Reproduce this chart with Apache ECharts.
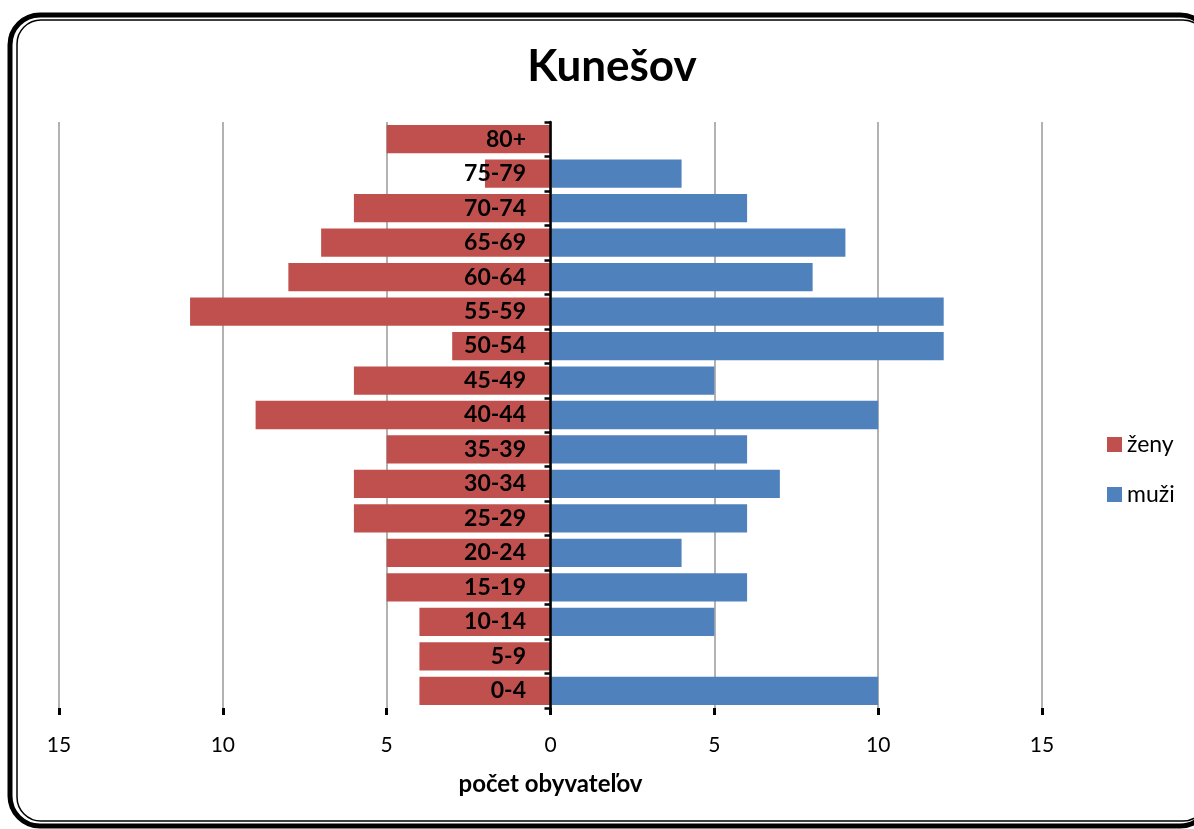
<!DOCTYPE html>
<html><head><meta charset="utf-8">
<script src="https://cdn.jsdelivr.net/npm/echarts@6/dist/echarts.min.js"></script>
<style>html,body{margin:0;padding:0;background:#fff}#c{width:1194px;height:829px}</style>
</head><body><div id="c"></div>
<script>
const categories = ['0-4','5-9','10-14','15-19','20-24','25-29','30-34','35-39','40-44','45-49','50-54','55-59','60-64','65-69','70-74','75-79','80+'];
const zeny = [4,4,4,5,5,6,6,5,9,6,3,11,8,7,6,2,5];
const muzi = [10,0,5,6,4,6,7,6,10,5,12,12,8,9,6,4,0];
const xTicks = [-15,-10,-5,0,5,10,15];

const chart = echarts.init(document.getElementById('c'));
const FONT = 'Lato, "Liberation Sans", sans-serif';
chart.setOption({
  animation: false,
  textStyle: {fontFamily: FONT},
  graphic: [
    {type:'rect', shape:{x:10,y:15,width:1200,height:811,r:30}, style:{fill:'none',stroke:'#000',lineWidth:5}, z:100},
    {type:'rect', shape:{x:17,y:20,width:1190,height:801,r:24}, style:{fill:'none',stroke:'#000',lineWidth:1.5}, z:100}
  ],
  title: {text:'Kunešov', left:607, top:40, textAlign:'center',
    textStyle:{fontFamily:FONT,fontSize:44,fontWeight:'bold',color:'#000'}},
  legend: {orient:'vertical', left:1102, top:427, itemWidth:15, itemHeight:15, itemGap:25,
    icon:'rect', textStyle:{fontFamily:FONT,fontSize:23,lineHeight:25,color:'#000'},
    data:['ženy','muži']},
  grid: {left:59, right:152, top:122, bottom:121, outerBoundsMode:'none', containLabel:false},
  xAxis: {type:'value', min:-15, max:15, interval:5,
    axisLine:{onZero:false, lineStyle:{color:'#000',width:2.5}},
    axisTick:{show:true,length:7,lineStyle:{color:'#000',width:3}},
    axisLabel:{fontFamily:FONT,fontSize:21,color:'#000',margin:27,
      formatter: v => xTicks.includes(v) ? String(Math.abs(v)) : ''},
    splitLine:{show:true,lineStyle:{color:'#999',width:1.5}},
    name:'počet obyvateľov', nameLocation:'middle', nameGap:64,
    nameTextStyle:{fontFamily:FONT,fontSize:24,fontWeight:'bold',color:'#000'}},
  yAxis: {type:'category', data:categories, z:10,
    axisLine:{onZero:true, lineStyle:{color:'#000',width:2.5}},
    axisTick:{show:true,length:6,lineStyle:{color:'#000',width:2.5}},
    axisLabel:{fontFamily:FONT,fontSize:23,fontWeight:'bold',color:'#000',margin:-467},
    splitLine:{show:false}},
  series: [
    {name:'ženy', type:'bar', stack:'t', data:zeny.map(v=>-v), barCategoryGap:'18%',
      itemStyle:{color:'#C0504D'}},
    {name:'muži', type:'bar', stack:'t', data:muzi, barCategoryGap:'18%',
      itemStyle:{color:'#4F81BD'}}
  ]
});
</script></body></html>
